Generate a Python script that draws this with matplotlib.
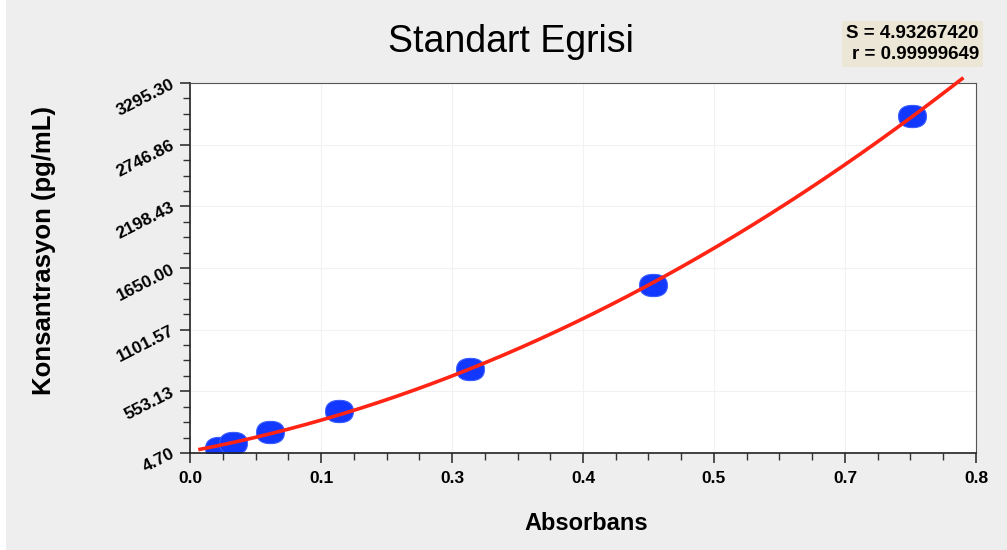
import numpy as np
import matplotlib.pyplot as plt
from matplotlib.path import Path
from matplotlib.patches import Rectangle
from matplotlib.ticker import FixedLocator, AutoMinorLocator, FixedFormatter, FuncFormatter

plt.rcParams['font.family'] = ['Liberation Sans', 'DejaVu Sans']

# standards: absorbance vs concentration
absorbans = [0.029, 0.043, 0.080, 0.149, 0.281, 0.4636, 0.723]
konsantrasyon = [46.875, 93.75, 187.5, 375.0, 750.0, 1500.0, 3000.0]

y_min, y_max = 4.70, 3295.30
x_min, x_max = 0.0, 0.7875
y_tick_labels = ["4.70", "553.13", "1101.57", "1650.00", "2198.43", "2746.86", "3295.30"]
s_value = "4.93267420"
r_value = "0.99999649"

# calibration curve from the standards
coef = np.polyfit(absorbans, konsantrasyon, 2)
xs = np.linspace(0.010, 0.7735, 300)
ys = np.polyval(coef, xs)

# rounded blob marker
t = np.linspace(0, 2 * np.pi, 80)
mx = np.sign(np.cos(t)) * np.abs(np.cos(t)) ** 0.85 * 1.15
my = np.sign(np.sin(t)) * np.abs(np.sin(t)) ** 0.85 * 0.92
blob = Path(np.column_stack([mx, my]))

fig = plt.figure(figsize=(10.07, 5.5), dpi=100)
fig.patch.set_facecolor('#eeeeee')
fig.add_artist(Rectangle((0, 0), 6 / 1007, 1, transform=fig.transFigure,
                         facecolor='white', edgecolor='none'))
ax = fig.add_axes([0.1887, 0.1764, 0.7805, 0.6726])
ax.set_facecolor('white')

ax.plot(xs, ys, color='#ff2414', lw=2.6, zorder=3, clip_on=False)
ax.plot(absorbans, konsantrasyon, linestyle='none', marker=blob,
        markersize=20, color='#1238ff', markeredgecolor='#3a5cff',
        markeredgewidth=0.8, zorder=2)

ax.set_xlim(x_min, x_max)
ax.set_ylim(y_min, y_max)

ax.xaxis.set_major_locator(FixedLocator(np.linspace(x_min, x_max, 7)))
ax.yaxis.set_major_locator(FixedLocator(np.linspace(y_min, y_max, 7)))
ax.xaxis.set_minor_locator(AutoMinorLocator(4))
ax.yaxis.set_minor_locator(AutoMinorLocator(4))
ax.xaxis.set_major_formatter(FuncFormatter(lambda v, p: f"{v:.1f}"))
ax.yaxis.set_major_formatter(FixedFormatter(y_tick_labels))

ax.tick_params(which='major', length=7, width=1.2, color='#333333')
ax.tick_params(which='minor', length=5, width=1.0, color='#333333')
ax.tick_params(axis='x', labelsize=12.5, pad=6)
ax.tick_params(axis='y', labelsize=12.5, pad=5)
for lbl in ax.get_xticklabels():
    lbl.set_fontweight('bold')
for lbl in ax.get_yticklabels():
    lbl.set_fontweight('bold')
    lbl.set_rotation(27)
    lbl.set_rotation_mode('anchor')
    lbl.set_ha('right')
    lbl.set_va('center')

ax.grid(True, which='major', color='#f2f2f2', lw=0.8)
ax.set_axisbelow(True)
for side in ['top', 'right']:
    ax.spines[side].set_color('#555555')
for side in ['left', 'bottom']:
    ax.spines[side].set_color('#222222')
    ax.spines[side].set_linewidth(1.2)

fig.text(0.507, 0.924, "Standart Egrisi", ha='center', va='center', fontsize=27)
fig.text(0.582, 0.048, "Absorbans", ha='center', va='center',
         fontsize=17, fontweight='bold')
fig.text(0.044, 0.545, "Konsantrasyon (pg/mL)", ha='center', va='center',
         rotation=90, fontsize=18.5, fontweight='bold')

fig.text(0.972, 0.920, f"S = {s_value}\nr = {r_value}", ha='right', va='center',
         fontsize=13.5, fontweight='bold', linespacing=1.25,
         bbox=dict(boxstyle='square,pad=0.25', fc='#ebe6d6', ec='none'))

fig.savefig('out.png', dpi=100, facecolor=fig.get_facecolor())
